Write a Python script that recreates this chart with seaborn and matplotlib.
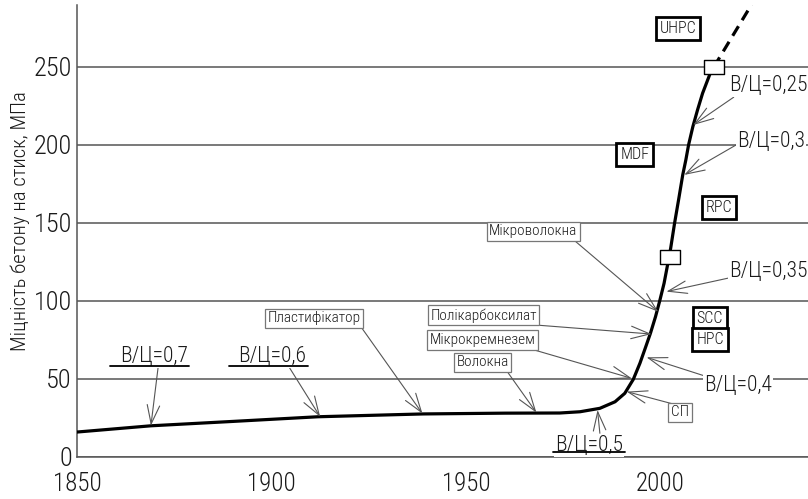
import numpy as np
import pandas as pd
import matplotlib
matplotlib.use("Agg")
import matplotlib.pyplot as plt
from matplotlib import font_manager
from matplotlib.font_manager import FontProperties
from matplotlib.path import Path
import seaborn as sns

# ---------------- data ----------------
years = [1850, 1869, 1890, 1912, 1939, 1960, 1974.1, 1979.3, 1984.4, 1988.3, 1990.8,
         1993.0, 1994.7, 1996.2, 1997.4, 1998.7, 1999.8, 2000.9, 2001.8, 2002.6,
         2003.6, 2004.7, 2005.7, 2006.5, 2007.2, 2008.3, 2009.5, 2010.8, 2012.7, 2013.7]
strength = [16.0, 20.0, 22.8, 25.8, 27.6, 28.1, 28.2, 29.0, 31.2, 35.4, 40.8,
            49.8, 60.1, 70.7, 79.3, 89.9, 100.2, 111.3, 123.1, 133.8,
            149.8, 165.8, 180.8, 190.4, 200.0, 211.7, 222.4, 233.1, 245.5, 250.0]
ext_years = [2013.7, 2023.4]
ext_strength = [250.0, 290.0]
marker_years = [2002.3, 2013.7]
marker_strength = [127.9, 250.0]

x_ticks = [1850, 1900, 1950, 2000]
y_ticks = [0, 50, 100, 150, 200, 250]
y_label = "Міцність бетону на стиск, МПа"

# water/cement labels: text, x, baseline y, alignment
wc_text = ["В/Ц=0,7", "В/Ц=0,6", "В/Ц=0,5", "В/Ц=0,4", "В/Ц=0,35", "В/Ц=0,3", "В/Ц=0,25"]
wc_x = [1869.7, 1900.2, 1981.6, 2019.9, 2027.6, 2019.7, 2017.6]
wc_y = [60.7, 60.7, 3.9, 42.3, 115.6, 198.9, 234.6]
wc_ha = ["center", "center", "center", "center", "center", "left", "left"]
wc_start_x = [1870.9, 1904.3, 1984.4, 2011.4, 2018.4, 2019.7, 2018.8]
wc_start_y = [58.5, 58.5, 15.2, 51.9, 115.2, 200.4, 230.6]
wc_end_x = [1869.0, 1912.5, 1983.8, 1996.4, 2001.5, 2006.1, 2008.4]
wc_end_y = [20.1, 25.8, 30.1, 63.9, 106.0, 180.8, 212.8]
# underlines (only for some)
ul_x0 = [1858.5, 1889.1, 1972.4]
ul_x1 = [1878.8, 1909.4, 1990.8]
ul_y = [58.5, 58.5, 3.0]

# additive labels (thin boxes)
add_text = ["Пластифікатор", "Волокна", "Мікрокремнезем", "Полікарбоксилат", "Мікроволокна", "СП"]
add_x = [1910.9, 1954.3, 1954.3, 1954.5, 1967.3, 2005.0]
add_y = [88.8, 60.6, 75.0, 90.8, 144.7, 28.7]
add_start_x = [1923.2, 1960.8, 1966.7, 1967.9, 1977.7, 2003.2]
add_start_y = [82.7, 54.0, 69.2, 84.6, 139.1, 34.0]
add_end_x = [1938.8, 1968.1, 1992.6, 1997.7, 1999.4, 1991.3]
add_end_y = [27.8, 28.4, 50.4, 78.8, 93.1, 41.9]

# concrete type labels (thick boxes)
type_text = ["UHPC", "MDF", "RPC", "SCC", "HPC"]
type_x = [2004.5, 1993.4, 2015.0, 2012.7, 2012.7]
type_y = [274.4, 194.0, 159.6, 88.9, 75.0]

# ---------------- style ----------------
sns.set_theme(style="white")

entries = font_manager.fontManager.ttflist


def pick(cands):
    for w in ("300", "400"):
        c = [e for e in cands if str(e.weight) == w]
        if c:
            return c[0].fname
    c = [e for e in cands if str(e.weight) in ("normal", "regular", "light")]
    return c[0].fname if c else None


font_path = None
for nm in ["Liberation Sans Narrow", "Roboto Condensed", "Open Sans Condensed",
           "Noto Sans Condensed", "Noto Sans SemiCondensed", "DejaVu Sans Condensed",
           "Arial Narrow"]:
    font_path = pick([e for e in entries if e.name == nm and str(e.style) == "normal"])
    if font_path:
        break
if font_path is None:
    for fam in ["DejaVu Sans", "Noto Sans", "Roboto", "Open Sans", "Liberation Sans"]:
        font_path = pick([e for e in entries if e.name == fam and str(e.style) == "normal"
                          and "condensed" in str(e.stretch)
                          and "extra" not in str(e.stretch)
                          and "ultra" not in str(e.stretch)])
        if font_path:
            break
NARROW = font_path is not None
if NARROW:
    base_name = FontProperties(fname=font_path).get_name()
    plt.rcParams["font.family"] = [base_name, "DejaVu Sans"]
else:
    plt.rcParams["font.family"] = ["DejaVu Sans"]


def fp(size):
    if NARROW:
        return FontProperties(fname=font_path, size=size)
    return FontProperties(family="DejaVu Sans", size=size * 0.8)


GRID = "#555555"
TXT = "#1a1a1a"

fig = plt.figure(figsize=(8.08, 4.99), dpi=100)
ax = fig.add_axes([77 / 808, 42 / 499, 731 / 808, 452 / 499])

sns.lineplot(x=years, y=strength, sort=False, estimator=None, color="black",
             lw=2.3, ax=ax, zorder=3)
sns.lineplot(x=ext_years, y=ext_strength, sort=False, estimator=None, color="black",
             lw=2.3, ax=ax, zorder=3, linestyle=(0, (3.5, 2.2)))

rect = Path([(-1.3, -1), (1.3, -1), (1.3, 1), (-1.3, 1), (-1.3, -1)],
            [Path.MOVETO, Path.LINETO, Path.LINETO, Path.LINETO, Path.CLOSEPOLY])
sns.scatterplot(x=marker_years, y=marker_strength, marker=rect, s=190,
                color="white", edgecolor="black", linewidth=1.0, ax=ax, zorder=5)

ax.set_xlim(1850, 2037.9)
ax.set_ylim(0, 289.7)
ax.set_xticks(x_ticks)
ax.set_yticks(y_ticks)
ax.set_xticklabels([str(t) for t in x_ticks], fontproperties=fp(18))
ax.set_yticklabels([str(t) for t in y_ticks], fontproperties=fp(19))
ax.grid(axis="y", color=GRID, lw=1.1)
ax.grid(axis="x", visible=False)
for s in ["top", "right"]:
    ax.spines[s].set_visible(False)
for s in ["left", "bottom"]:
    ax.spines[s].set_color(GRID)
    ax.spines[s].set_linewidth(1.1)
ax.tick_params(axis="x", direction="inout", length=12, width=1, color=GRID,
               pad=5, labelcolor=TXT)
ax.tick_params(axis="y", length=0, pad=3.6, labelcolor=TXT)
ax.set_xlabel("")
ax.set_ylabel(y_label, fontproperties=fp(15), color=TXT)
ax.yaxis.set_label_coords(-0.064, 0.521)

arrow_kw = dict(arrowstyle="->,head_length=0.9,head_width=0.3", color=GRID, lw=0.8,
                shrinkA=0, shrinkB=0, mutation_scale=15)

# W/C labels
for t, x, y, ha, sx, sy, ex, ey in zip(wc_text, wc_x, wc_y, wc_ha, wc_start_x,
                                       wc_start_y, wc_end_x, wc_end_y):
    ax.annotate("", xy=(ex, ey), xytext=(sx, sy), arrowprops=arrow_kw, zorder=4)
    ax.text(x, y, t, ha=ha, va="baseline", fontproperties=fp(15.5), color=TXT, zorder=6,
            bbox=dict(boxstyle="square,pad=0.05", fc="white", ec="none"))
for x0, x1, y in zip(ul_x0, ul_x1, ul_y):
    ax.plot([x0, x1], [y, y], color="black", lw=1.3, zorder=6)

# additive labels
for t, x, y, sx, sy, ex, ey in zip(add_text, add_x, add_y, add_start_x, add_start_y,
                                   add_end_x, add_end_y):
    ax.annotate("", xy=(ex, ey), xytext=(sx, sy), arrowprops=arrow_kw, zorder=4)
    ax.text(x, y, t, ha="center", va="center", fontproperties=fp(11), color=TXT, zorder=6,
            bbox=dict(boxstyle="square,pad=0.17", fc="white", ec="#777777", lw=0.9))

# concrete types
for t, x, y in zip(type_text, type_x, type_y):
    ax.text(x, y, t, ha="center", va="center", fontproperties=fp(11.5), color=TXT, zorder=6,
            bbox=dict(boxstyle="square,pad=0.25", fc="white", ec="black", lw=2.0))

fig.savefig("out.png", dpi=100)
